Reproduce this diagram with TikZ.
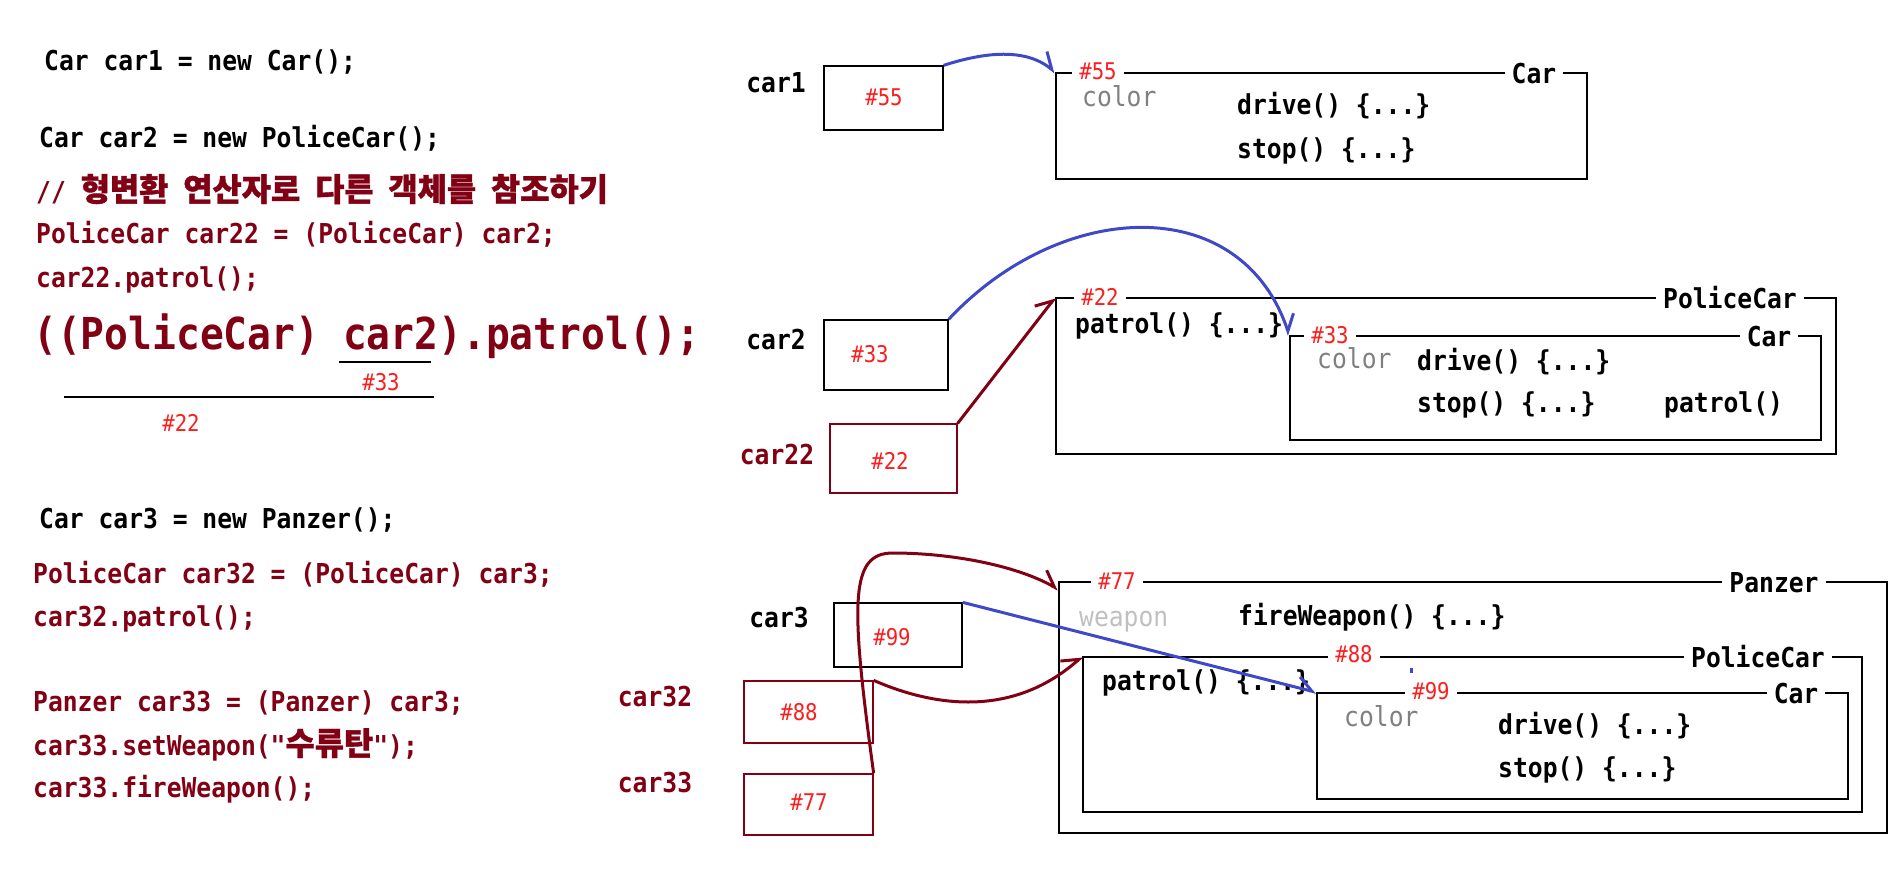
\documentclass[tikz,border=0pt]{standalone}
\usepackage{fontspec}
\usepackage{tikz}
\usetikzlibrary{arrows.meta}
\newfontfamily\codefont[FakeStretch=0.9,Ligatures=TeXOff]{DejaVu Sans Mono}
\newfontfamily\krfont[Scale=1.16,FakeBold=1.2]{Noto Sans CJK KR}
\newcommand{\kr}[1]{{\krfont #1}}
\definecolor{codered}{RGB}{130,0,20}
\definecolor{addrred}{RGB}{250,30,30}
\definecolor{refblue}{RGB}{64,72,200}
\definecolor{fieldgray}{RGB}{128,128,128}
\definecolor{weapongray}{RGB}{192,192,192}

\begin{document}
\begin{tikzpicture}[
        x=1pt, y=-1pt,
        codeline/.style={anchor=west, inner sep=0pt, text height=20pt, text depth=0pt,
            font=\codefont\bfseries\fontsize{27.4pt}{30pt}\selectfont},
        redline/.style={codeline, text=codered},
        field/.style={codeline, font=\codefont\fontsize{27.4pt}{30pt}\selectfont},
        varname/.style={codeline, anchor=center},
        addr/.style={inner sep=0pt, text height=17pt, text depth=0pt, text=addrred,
            font=\codefont\fontsize{23pt}{26pt}\selectfont},
        tag/.style={addr, fill=white, inner xsep=7pt, inner ysep=2pt},
        clsname/.style={codeline, anchor=center, fill=white, inner xsep=7pt, inner ysep=2pt},
        refbox/.style={draw, line width=1.3pt, inner sep=0pt},
        objbox/.style={draw, line width=1.3pt, inner sep=0pt},
        bluearr/.style={refblue, line width=3pt, -{Straight Barb[harpoon, length=15pt, width=22pt]}},
        redarr/.style={codered, line width=3pt, -{Straight Barb[harpoon, length=15pt, width=22pt]}}
    ]
        \useasboundingbox (0,0) rectangle (1898,868);

        % 왼쪽 코드
        \node[codeline] (l1) at (44,60) {Car car1 = new Car();};
        \node[codeline] (l2) at (39,137) {Car car2 = new PoliceCar();};
        \node[redline] (l3) at (36,191) {// \kr{형변환} \kr{연산자로} \kr{다른} \kr{객체를} \kr{참조하기}};
        \node[redline] (l4) at (36,233) {PoliceCar car22 = (PoliceCar) car2;};
        \node[redline] (l5) at (36,277) {car22.patrol();};
        \node[redline, text height=32pt, font=\codefont\bfseries\fontsize{44pt}{48pt}\selectfont] (big) at (33,333) {((PoliceCar) car2).patrol();};
        \draw[line width=1.3pt] (339,362) -- (431,362);
        \draw[line width=1.3pt] (64,397) -- (434,397);
        \node[addr] (b33) at (381,382) {\#33};
        \node[addr] (b22) at (181,423) {\#22};

        \node[codeline] (l6) at (39,518) {Car car3 = new Panzer();};
        \node[redline] (l7) at (33,573) {PoliceCar car32 = (PoliceCar) car3;};
        \node[redline] (l8) at (33,616) {car32.patrol();};
        \node[redline] (l9) at (33,701) {Panzer car33 = (Panzer) car3;};
        \node[redline] (l10) at (33,745) {car33.setWeapon("\kr{수류탄}");};
        \node[redline] (l11) at (33,787) {car33.fireWeapon();};

        % 참조 변수
        \node[varname] (v1) at (776,82) {car1};
        \node[varname] (v2) at (776,339) {car2};
        \node[varname, text=codered] (v22) at (777,454) {car22};
        \node[varname] (v3) at (779,617) {car3};
        \node[varname, text=codered] (v32) at (655,696) {car32};
        \node[varname, text=codered] (v33) at (655,782) {car33};

        \node[refbox, minimum width=119pt, minimum height=64pt] (r1) at (883.5,98) {};
        \node[refbox, minimum width=124pt, minimum height=70pt] (r2) at (886,355) {};
        \node[refbox, draw=codered, minimum width=127pt, minimum height=69pt] (r22) at (893.5,458.5) {};
        \node[refbox, minimum width=128pt, minimum height=64pt] (r3) at (898,635) {};
        \node[refbox, draw=codered, minimum width=129pt, minimum height=62pt] (r32) at (808.5,712) {};
        \node[refbox, draw=codered, minimum width=129pt, minimum height=61pt] (r33) at (808.5,804.5) {};
        \node[addr] at (884,97) {\#55};
        \node[addr] at (870,354) {\#33};
        \node[addr] at (890,461) {\#22};
        \node[addr] at (892,637) {\#99};
        \node[addr] at (799,712) {\#88};
        \node[addr] at (809,802) {\#77};

        % 객체 (car1)
        \node[objbox, minimum width=531pt, minimum height=106pt] (o1) at (1321.5,126) {};
        \node[tag] at (1098,71) {\#55};
        \node[clsname] at (1534,73) {Car};
        \node[field, text=fieldgray] at (1082,96) {color};
        \node[codeline] at (1237,104) {drive() \{...\}};
        \node[codeline] at (1237,148) {stop() \{...\}};

        % 객체 (car2)
        \node[objbox, minimum width=780pt, minimum height=156pt] (o2) at (1446,376) {};
        \node[tag] at (1100,297) {\#22};
        \node[clsname] at (1730,298) {PoliceCar};
        \node[codeline] at (1075,323) {patrol() \{...\}};
        \node[objbox, minimum width=531pt, minimum height=104pt] (o2c) at (1555.5,388) {};
        \node[tag] at (1330,335) {\#33};
        \node[clsname] at (1769,336) {Car};
        \node[field, text=fieldgray] at (1317,358) {color};
        \node[codeline] at (1417,360) {drive() \{...\}};
        \node[codeline] at (1417,402) {stop() \{...\}};
        \node[codeline] at (1664,402) {patrol()};

        % 객체 (car3)
        \node[objbox, minimum width=828pt, minimum height=251pt] (o3) at (1473,707.5) {};
        \node[tag] at (1117,581) {\#77};
        \node[clsname] at (1774,582) {Panzer};
        \node[field, text=weapongray] at (1079,616) {weapon};
        \node[codeline] at (1238,615) {fireWeapon() \{...\}};
        \node[objbox, minimum width=779pt, minimum height=155pt] (o3p) at (1472.5,734.5) {};
        \node[tag] at (1354,654) {\#88};
        \node[clsname] at (1758,657) {PoliceCar};
        \node[codeline] at (1102,680) {patrol() \{...\}};
        \node[objbox, minimum width=531pt, minimum height=106pt] (o3c) at (1582.5,746) {};
        \node[tag] at (1431,691) {\#99};
        \node[clsname] at (1796,693) {Car};
        \node[field, text=fieldgray] at (1344,716) {color};
        \node[codeline] at (1498,724) {drive() \{...\}};
        \node[codeline] at (1498,767) {stop() \{...\}};
        \fill[refblue] (1410,668) rectangle (1413,673);

        % 참조 화살표
        \draw[bluearr] (r1.north east) .. controls (985,52) and (1025,48) .. (o1.north west);
        \draw[bluearr] (r2.north east) .. controls (1060,200) and (1240,190) .. (o2c.north west);
        \draw[redarr] (r22.north east) -- (o2.north west);
        \draw[bluearr] (r3.north east) -- (o3c.north west);
        \draw[redarr] (r32.north east) .. controls (930,705) and (1010,720) .. (o3p.north west);
        \draw[redarr] (r33.north east) .. controls (850,600) and (850,553) .. (893,553)
            .. controls (950,553) and (1015,565) .. ([yshift=-8pt]o3.north west);
    \end{tikzpicture}
\end{document}
